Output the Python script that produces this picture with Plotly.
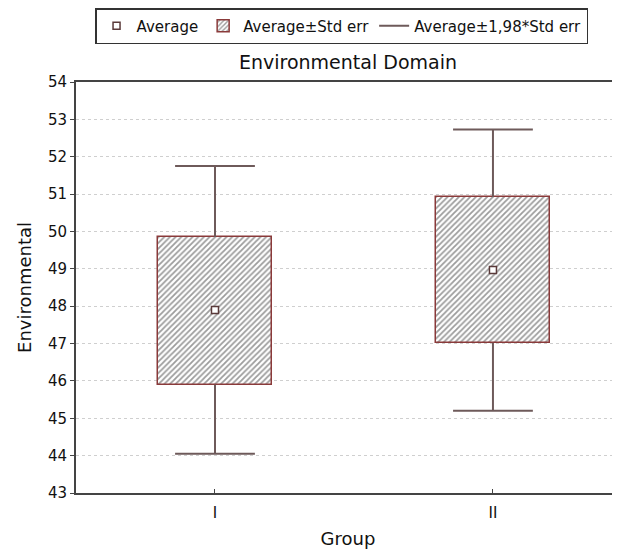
import plotly.graph_objects as go

groups = ["I", "II"]
xpos = [0, 1]
average = [47.90, 48.97]
se_low = [45.90, 47.02]
se_high = [49.85, 50.92]
ci_low = [44.05, 45.20]
ci_high = [51.75, 52.73]
y_ticks = list(range(43, 55))

box_col = "#8a3a3a"
whisk_col = "#6e5a5a"
font_fam = "DejaVu Sans, Verdana, sans-serif"

W, H = 612, 541  # page body adds an 8px offset

fig = go.Figure()

# hatched boxes (Average ± Std err)
fig.add_trace(go.Bar(
    x=xpos, y=[h - l for h, l in zip(se_high, se_low)], base=se_low,
    width=0.41, name="Average±Std err", legendrank=2,
    marker=dict(color="white", line=dict(color=box_col, width=1.5),
                pattern=dict(shape="/", fgcolor="#3a3a3a", bgcolor="white",
                             size=4, solidity=0.45)),
    hoverinfo="skip",
))

# whisker stems
wx, wy = [], []
for x, lo, hi, clo, chi in zip(xpos, se_low, se_high, ci_low, ci_high):
    wx += [x, x, None, x, x, None]
    wy += [hi, chi, None, lo, clo, None]
fig.add_trace(go.Scatter(
    x=wx, y=wy, mode="lines", line=dict(color=whisk_col, width=2),
    name="Average±1,98*Std err", legendrank=3, hoverinfo="skip",
))
# whisker caps
fig.add_trace(go.Scatter(
    x=xpos + xpos, y=ci_high + ci_low, mode="markers",
    marker=dict(symbol="line-ew", size=57, line=dict(color=whisk_col, width=2)),
    showlegend=False, hoverinfo="skip",
))
# mean markers
fig.add_trace(go.Scatter(
    x=xpos, y=average, mode="markers", name="Average", legendrank=1,
    marker=dict(symbol="square", size=7, color="white",
                line=dict(color="#5a3a3a", width=1.5)),
))

fig.update_layout(
    width=W, height=H,
    margin=dict(l=68, r=0, t=74, b=56, autoexpand=False),
    paper_bgcolor="white", plot_bgcolor="white",
    font=dict(family=font_fam, color="#111111", size=15),
    title=dict(text="Environmental Domain", x=0.5, xref="paper",
               y=1 - 54 / H, yref="container", yanchor="middle",
               xanchor="center", font=dict(size=19, color="#111111")),
    showlegend=True,
    legend=dict(orientation="h", x=0.035, xanchor="left", y=1.18, yanchor="top",
                bordercolor="#333333", borderwidth=1.5, bgcolor="white",
                font=dict(size=15)),
    bargap=0,
)
fig.update_xaxes(
    range=[-0.5, 1.457], tickvals=xpos, ticktext=groups, automargin=False,
    showline=True, linecolor="#444444", linewidth=2, mirror=True,
    ticks="inside", ticklen=4, tickcolor="#444444", showgrid=False, zeroline=False,
    ticklabelstandoff=5,
    title=dict(text="Group", font=dict(size=18), standoff=16),
    tickfont=dict(size=15),
)
fig.update_yaxes(
    range=[43, 54], tickvals=y_ticks, showline=True, linecolor="#444444",
    automargin=False,
    linewidth=2, ticks="outside", ticklen=4, tickcolor="#444444",
    showgrid=True, gridcolor="#cfcfcf", griddash="dot", gridwidth=1, zeroline=False,
    title=dict(text="Environmental", font=dict(size=18), standoff=12),
    tickfont=dict(size=15),
)

fig.write_html("out.html")
